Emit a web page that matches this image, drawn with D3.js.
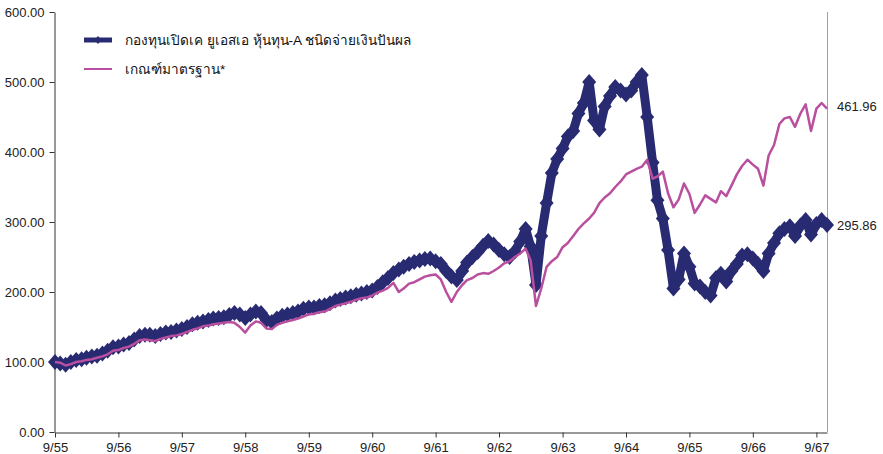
<!DOCTYPE html>
<html>
<head>
<meta charset="utf-8">
<script src="https://cdn.jsdelivr.net/npm/d3@7"></script>
<style>
  body { margin: 0; background: #fff; }
  svg { display: block; font-family: "Liberation Sans", Arial, sans-serif; }
</style>
</head>
<body>
<div id="chart"></div>
<script>
// monthly values, Sep 2012 (9/55) .. Nov 2024
const fundName = "กองทุนเปิดเค ยูเอสเอ หุ้นทุน-A ชนิดจ่ายเงินปันผล"
const benchName = "เกณฑ์มาตรฐาน*"
const fundValues = [
  100, 98, 96, 100, 103, 104, 106, 108, 109, 112, 116, 121,
  122, 125, 127, 132, 137, 139, 139, 137, 140, 142, 143, 145,
  147, 150, 154, 156, 158, 160, 162, 163, 164, 167, 170, 168,
  163, 168, 172, 170, 160, 157, 162, 166, 168, 170, 172, 176,
  178, 178, 180, 181, 184, 188, 190, 192, 194, 196, 198, 200,
  202, 207, 214, 220, 227, 232, 236, 240, 243, 245, 247, 248,
  244, 240, 230, 222, 217, 230, 242, 250, 257, 266, 273, 268,
  260, 254, 250, 258, 272, 290, 265, 210, 280, 327, 370, 390,
  405, 422, 430, 455, 470, 500, 445, 432, 465, 480, 493, 488,
  482, 488, 500, 510, 450, 385, 331, 305, 260, 205, 218, 255,
  236, 212, 208, 200, 195, 220, 226, 215, 230, 240, 252, 254,
  248, 240, 230, 255, 270, 284, 290, 294, 280, 295, 303, 282,
  297, 303, 295.86
]
const benchValues = [
  100, 99, 95, 97, 100, 101, 103, 104, 106, 108, 111, 116,
  117, 120, 122, 126, 131, 132, 131, 130, 133, 135, 137, 138,
  140, 143, 146, 148, 151, 152, 154, 155, 156, 157, 156, 150,
  142, 152, 158, 156, 148, 147, 153, 156, 158, 160, 162, 165,
  168, 169, 171, 172, 176, 180, 182, 184, 186, 189, 191, 192,
  195, 199, 202, 206, 213, 200, 205, 212, 214, 218, 222, 224,
  225, 218, 200, 186, 200, 210, 217, 220, 225, 227, 226, 230,
  235, 241, 244, 250, 255, 262, 245, 180, 205, 236, 244, 250,
  264, 270, 280, 290, 298, 305, 313, 327, 335, 341, 350, 358,
  368, 372, 376, 379, 389, 362, 365, 372, 341, 321, 332, 355,
  340, 313, 325, 338, 333, 328, 344, 337, 352, 368, 380, 389,
  382, 376, 352, 395, 410, 440, 448, 450, 436, 455, 468, 430,
  462, 470, 461.96
]
const yTicks = [0, 100, 200, 300, 400, 500, 600]
const tickYears = [2012, 2013, 2014, 2015, 2016, 2017, 2018, 2019, 2020, 2021, 2022, 2023, 2024]

const width = 883, height = 454
const plotLeft = 55, plotRight = 827, plotTop = 12, plotBottom = 432
const navy = "#282a72", pink = "#b94f9f"

const start = new Date(2012, 8, 1)
const dates = fundValues.map((d, i) => d3.timeMonth.offset(start, i))

const x = d3.scaleTime()
  .domain([start, dates[dates.length - 1]])
  .range([plotLeft, plotRight])
const y = d3.scaleLinear()
  .domain([0, 600])
  .range([plotBottom, plotTop])

const svg = d3.select("#chart")
  .append("svg")
  .attr("width", width)
  .attr("height", height)

// right border
svg.append("line")
  .attr("x1", plotRight + 0.5).attr("x2", plotRight + 0.5)
  .attr("y1", plotTop).attr("y2", plotBottom)
  .attr("stroke", "#a0a0a0")

const yAxis = d3.axisLeft(y)
  .tickValues(yTicks)
  .tickFormat(d3.format(".2f"))
  .tickSize(5)
  .tickSizeOuter(0)
svg.append("g")
  .attr("transform", "translate(" + (plotLeft - 0.5) + ",0)")
  .call(yAxis)
  .call(g => g.selectAll("text").attr("font-size", 13).attr("fill", "#222").attr("dx", "-2"))
  .call(g => g.selectAll("line, path").attr("stroke", "#333"))

const xAxis = d3.axisBottom(x)
  .tickValues(tickYears.map(yr => new Date(yr, 8, 1)))
  .tickFormat(d => "9/" + ((d.getFullYear() + 543) % 100))
  .tickSize(5)
  .tickSizeOuter(0)
svg.append("g")
  .attr("transform", "translate(0," + (plotBottom + 0.5) + ")")
  .call(xAxis)
  .call(g => g.selectAll("text").attr("font-size", 13).attr("fill", "#222").attr("dy", "0.9em"))
  .call(g => g.selectAll("line, path").attr("stroke", "#333"))

const fundData = dates.map((d, i) => ({date: d, value: fundValues[i]}))
const benchData = dates.map((d, i) => ({date: d, value: benchValues[i]}))
const line = d3.line().x(d => x(d.date)).y(d => y(d.value))
const diamond = "M0,-8L7,0L0,8L-7,0Z"

svg.append("path")
  .datum(fundData)
  .attr("fill", "none")
  .attr("stroke", navy)
  .attr("stroke-width", 9)
  .attr("stroke-linejoin", "round")
  .attr("d", line)
svg.append("g")
  .selectAll("path")
  .data(fundData)
  .join("path")
  .attr("transform", d => "translate(" + x(d.date) + "," + y(d.value) + ")")
  .attr("d", diamond)
  .attr("fill", navy)

svg.append("path")
  .datum(benchData)
  .attr("fill", "none")
  .attr("stroke", pink)
  .attr("stroke-width", 2.5)
  .attr("stroke-linejoin", "round")
  .attr("d", line)

// end labels
const last = dates.length - 1
svg.append("text")
  .attr("x", 837).attr("y", y(benchValues[last]) - 2)
  .attr("dy", "0.35em").attr("font-size", 13).attr("fill", "#222")
  .text(benchValues[last].toFixed(2))
svg.append("text")
  .attr("x", 837).attr("y", y(fundValues[last]) + 1)
  .attr("dy", "0.35em").attr("font-size", 13).attr("fill", "#222")
  .text(fundValues[last].toFixed(2))

// legend
const legend = svg.append("g")
legend.append("line")
  .attr("x1", 84).attr("x2", 112).attr("y1", 40).attr("y2", 40)
  .attr("stroke", navy).attr("stroke-width", 5)
legend.append("path")
  .attr("transform", "translate(98,40)")
  .attr("d", "M0,-4L3.5,0L0,4L-3.5,0Z")
  .attr("fill", navy)
legend.append("text")
  .attr("x", 125).attr("y", 40).attr("dy", "0.35em")
  .attr("font-size", 13.6).attr("fill", "#111")
  .text(fundName)
legend.append("line")
  .attr("x1", 84).attr("x2", 112).attr("y1", 69).attr("y2", 69)
  .attr("stroke", pink).attr("stroke-width", 2)
legend.append("text")
  .attr("x", 125).attr("y", 69).attr("dy", "0.35em")
  .attr("font-size", 13.6).attr("fill", "#111")
  .text(benchName)
</script>
</body>
</html>
